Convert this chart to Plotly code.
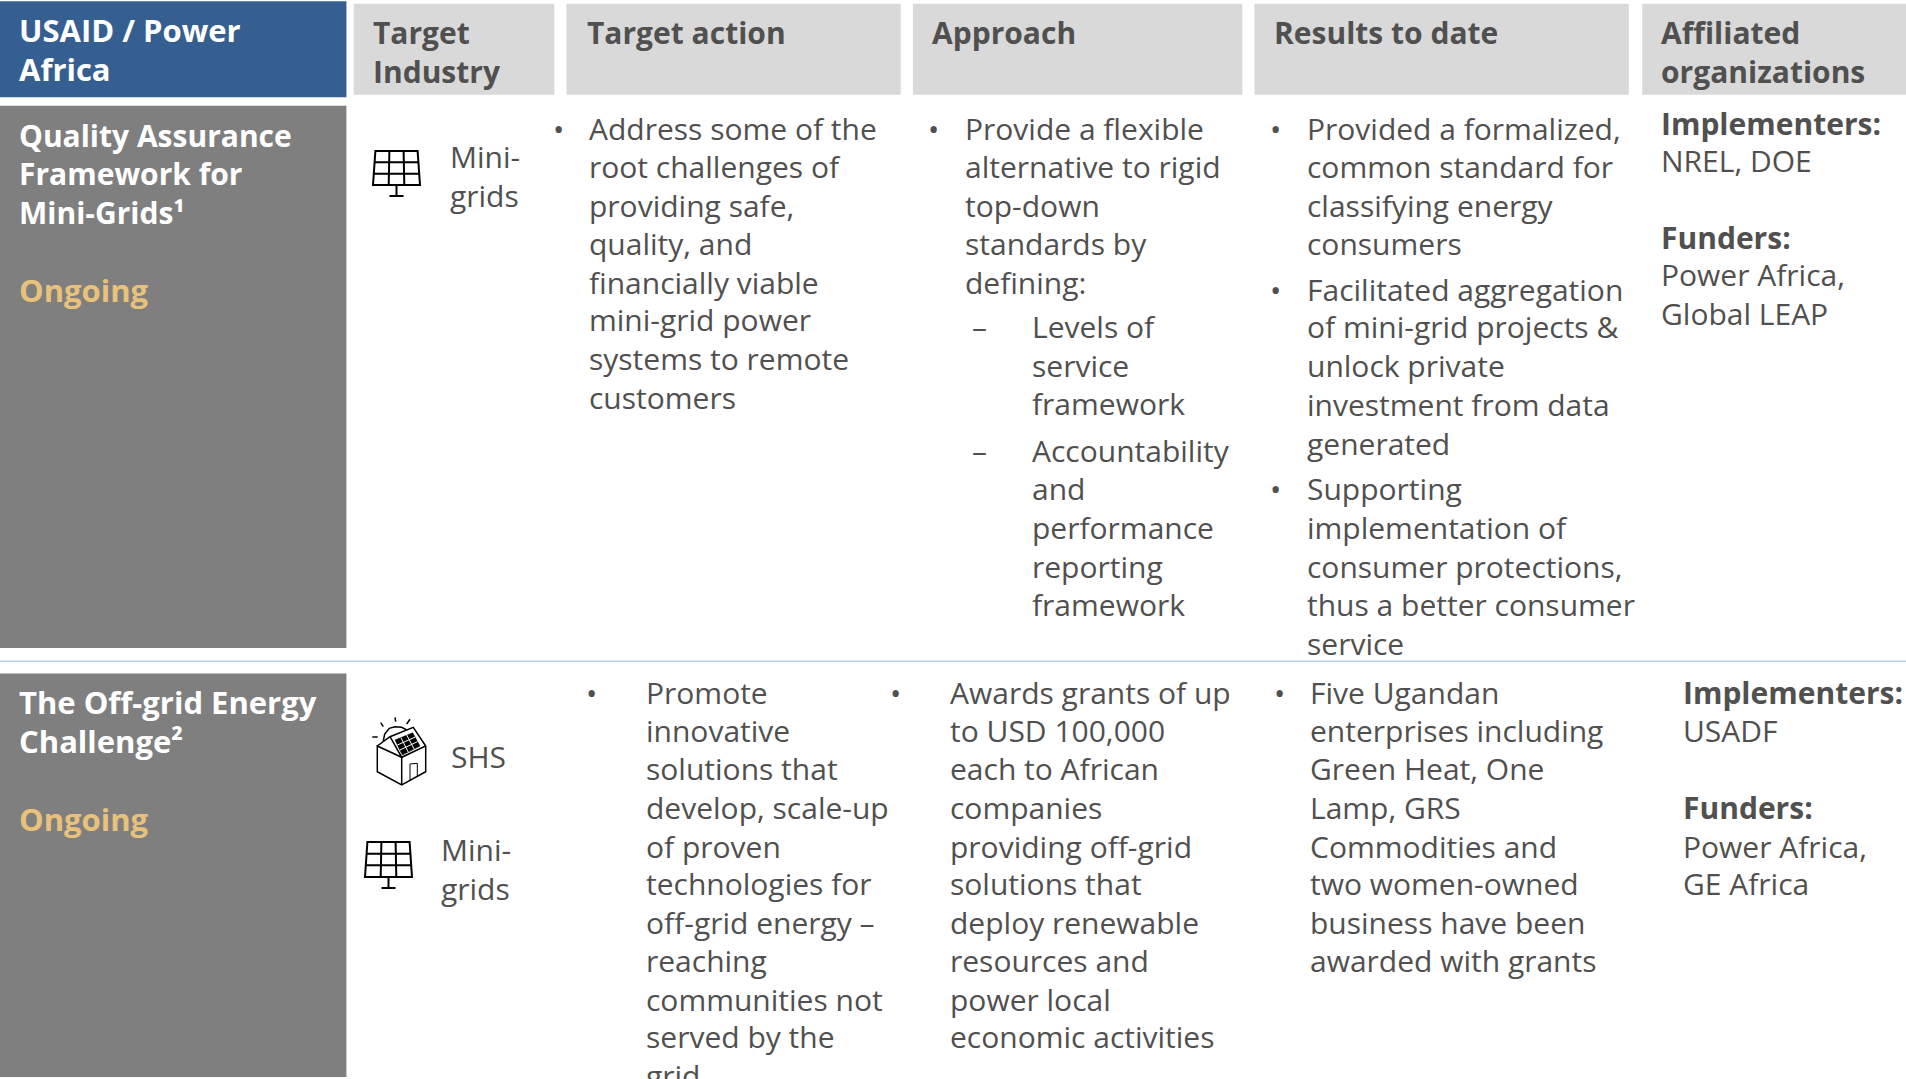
import plotly.graph_objects as go

# ---- text content ----
HEADERS = ["Target<br>Industry", "Target action", "Approach", "Results to date", "Affiliated<br>organizations"]
CORNER = ["USAID / Power", "Africa"]
ROW1_TITLE = ["Quality Assurance", "Framework for", "Mini-Grids¹"]
ROW2_TITLE = ["The Off-grid Energy", "Challenge²"]
STATUS = "Ongoing"
R1_ACTION = ["Address some of the", "root challenges of", "providing safe,", "quality, and", "financially viable",
             "mini-grid power", "systems to remote", "customers"]
R1_APPROACH = ["Provide a flexible", "alternative to rigid", "top-down", "standards by", "defining:"]
R1_SUB1 = ["Levels of", "service", "framework"]
R1_SUB2 = ["Accountability", "and", "performance", "reporting", "framework"]
R1_RES1 = ["Provided a formalized,", "common standard for", "classifying energy", "consumers"]
R1_RES2 = ["Facilitated aggregation", "of mini-grid projects &", "unlock private", "investment from data", "generated"]
R1_RES3 = ["Supporting", "implementation of", "consumer protections,", "thus a better consumer", "service"]
R1_ORG = [("<b>Implementers:</b>", 102.5), ("NREL, DOE", 133), ("<b>Funders:</b>", 196), ("Power Africa,", 227), ("Global LEAP", 259)]
R2_ACTION = ["Promote", "innovative", "solutions that", "develop, scale-up", "of proven", "technologies for",
             "off-grid energy –", "reaching", "communities not", "served by the", "grid"]
R2_APPROACH = ["Awards grants of up", "to USD 100,000", "each to African", "companies", "providing off-grid",
               "solutions that", "deploy renewable", "resources and", "power local", "economic activities"]
R2_RES = ["Five Ugandan", "enterprises including", "Green Heat, One", "Lamp, GRS", "Commodities and",
          "two women-owned", "business have been", "awarded with grants"]
R2_ORG = [("<b>Implementers:</b>", 571), ("USADF", 602), ("<b>Funders:</b>", 665), ("Power Africa,", 697), ("GE Africa", 728)]

# ---- layout ----
W, H = 1906, 1079
S = W / 1568
FONT = "Open Sans"
FS = 30
FSH = 30
FSL = 31
INK = "#505050"
ROWY = [107, 138, 170, 201, 233, 264, 296, 328]
R2Y = [571, 602, 633, 665, 697, 728, 760, 791, 823, 854, 886]

fig = go.Figure()
shapes, ann = [], []

def rect(x0, y0, x1, y1, c):
    shapes.append(dict(type="rect", x0=x0*S, x1=x1*S, y0=y0*S, y1=y1*S, fillcolor=c, line_width=0, layer="below"))

def txt(x, y, t, c=INK, size=FS):
    ann.append(dict(x=(x-1)*S, y=(y-1)*S, text=t, xanchor="left", yanchor="middle", showarrow=False, borderpad=0,
                    align="left", font=dict(family=FONT, size=size, color=c)))

def lines(x, ys, ts, **k):
    for yy, t in zip(ys, ts):
        txt(x, yy, t, **k)

rect(0, 1, 285, 80, "#355F91")
for x0, x1 in [(291, 456), (466, 741), (751, 1022), (1032, 1340), (1351, 1568)]:
    rect(x0, 3, x1, 78, "#D9D9D9")
rect(0, 87, 285, 533, "#7F7F7F")
rect(0, 554, 285, 886, "#7F7F7F")
shapes.append(dict(type="line", x0=0, x1=W, y0=544*S, y1=544*S, line=dict(color="#B2D5DC", width=1.5)))

# header text
lines(16, [26, 58], [f"<b>{t}</b>" for t in CORNER], c="white", size=FSL)
for x, t in zip([307, 483, 767, 1048, 1367], HEADERS):
    for i, part in enumerate(t.split("<br>")):
        txt(x, 28 + i*32, f"<b>{part}</b>", c=INK, size=FSH)

# left column
lines(16, [112.5, 143.5, 175.5], [f"<b>{t}</b>" for t in ROW1_TITLE], c="white", size=FSH)
txt(16, 239.5, f"<b>{STATUS}</b>", c="#E8C27B", size=FSL)
lines(16, [578.5, 610.5], [f"<b>{t}</b>" for t in ROW2_TITLE], c="white", size=FSL)
txt(16, 674.5, f"<b>{STATUS}</b>", c="#E8C27B", size=FSL)

# industry
lines(370, [130, 162], ["Mini-", "grids"])
txt(371, 623, "SHS")
lines(363, [700, 732], ["Mini-", "grids"])

# row 1
txt(455, 107, "•"); lines(485, ROWY, R1_ACTION)
txt(764, 107, "•"); lines(794, ROWY, R1_APPROACH)
txt(800, 270, "–"); lines(849, [270, 302, 333], R1_SUB1)
txt(800, 372, "–"); lines(849, [372, 403, 435, 467, 498], R1_SUB2)
txt(1045, 107, "•"); lines(1075, [107, 138, 170, 201], R1_RES1)
txt(1045, 239, "•"); lines(1075, [239, 270, 302, 334, 366], R1_RES2)
txt(1045, 403, "•"); lines(1075, [403, 435, 467, 498, 530], R1_RES3)
for t, y in R1_ORG:
    txt(1367, y, t)

# row 2
txt(482, 571, "•"); lines(532, R2Y, R2_ACTION)
txt(732, 571, "•"); lines(782, R2Y, R2_APPROACH)
txt(1048, 571, "•"); lines(1078, R2Y, R2_RES)
for t, y in R2_ORG:
    txt(1385, y, t)

# icons
def path(pts, close=False, width=2, color="black", fill=None):
    d = "M" + " L".join(f"{x:.1f},{y:.1f}" for x, y in pts) + (" Z" if close else "")
    s = dict(type="path", path=d, line=dict(color=color, width=width))
    if fill:
        s["fillcolor"] = fill
    shapes.append(s)

def lerp(a, b, t):
    return (a[0] + (b[0]-a[0])*t, a[1] + (b[1]-a[1])*t)

def panel(x, y, w, h):
    ins = w*0.05
    tl, tr, br, bl = (x+ins, y), (x+w-ins, y), (x+w, y+h), (x, y+h)
    path([tl, tr, br, bl], close=True)
    for t in (1/3, 2/3):
        path([lerp(tl, bl, t), lerp(tr, br, t)])
        path([lerp(tl, tr, t), lerp(bl, br, t)])
    cx = x + w/2
    path([(cx, y+h), (cx, y+h+11)])
    path([(cx-7, y+h+11), (cx+7, y+h+11)])

panel(373, 151, 47, 34)
panel(365, 842, 47, 35)

def z(p):
    return (340 + p[0]/3, 640 + p[1]/3)

def zpath(pts, **k):
    path([z(p) for p in pts], **k)

zpath([(112, 318), (150, 290), (220, 262), (257, 318), (185, 352), (112, 318), (112, 395), (185, 435), (257, 395), (257, 318)], width=1.5)
zpath([(150, 290), (185, 352), (185, 435)], width=1.5)
zpath([(210, 420), (210, 372), (232, 370), (232, 408)], width=1)
a, b, c, d = (165, 300), (218, 278), (240, 318), (187, 345)
zpath([a, b, c, d], close=True, width=0.5, fill="black")
for t in (1/3, 2/3):
    zpath([lerp(a, d, t), lerp(b, c, t)], width=1, color="white")
    zpath([lerp(a, b, t), lerp(d, c, t)], width=1, color="white")
zpath([(130, 303), (134, 282), (148, 265), (165, 260), (185, 262), (200, 270)], width=1.5)
for p, q in [((165, 232), (167, 245)), ((122, 248), (130, 260)), ((210, 238), (200, 252)), ((97, 291), (113, 291))]:
    zpath([p, q], width=1.5)

fig.update_layout(width=W, height=H, margin=dict(l=0, r=0, t=0, b=0), autosize=False,
                  paper_bgcolor="white", plot_bgcolor="white", shapes=shapes, annotations=ann,
                  xaxis=dict(range=[0, W], visible=False, fixedrange=True),
                  yaxis=dict(range=[H, 0], visible=False, fixedrange=True), showlegend=False)
fig.write_html("out.html", config=dict(displayModeBar=False),
               post_script="document.body.style.margin='0';document.documentElement.style.overflow='hidden';")
